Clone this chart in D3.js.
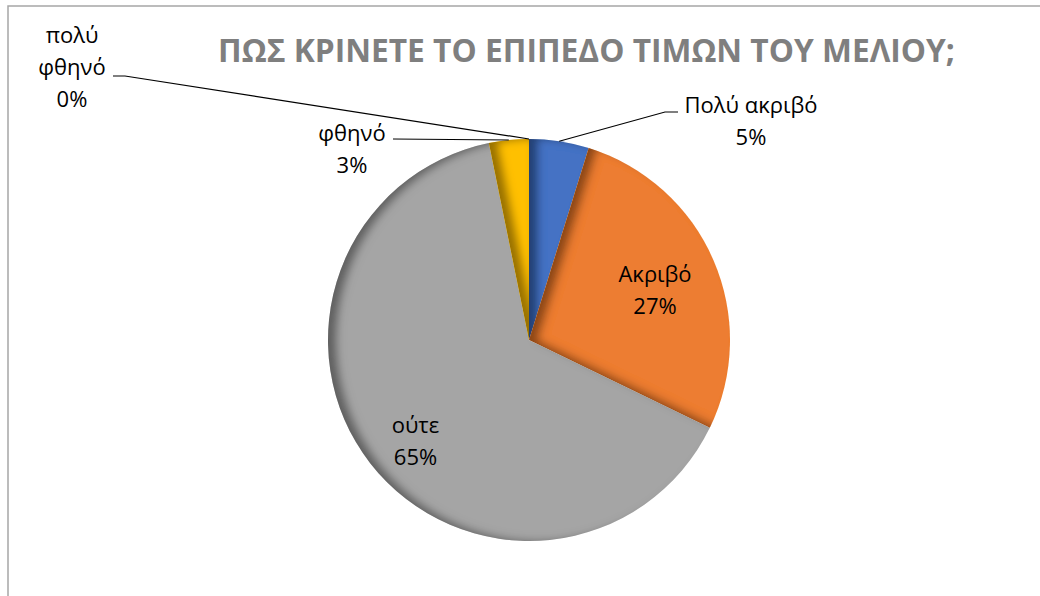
<!DOCTYPE html>
<html><head><meta charset="utf-8">
<script src="https://cdn.jsdelivr.net/npm/d3@7"></script>
<style>body{margin:0;background:#fff;overflow:hidden}</style>
</head><body><svg id="c" width="1040" height="596"></svg>
<script>
// ---- data ----
const categories = ["Πολύ ακριβό", "Ακριβό", "ούτε", "φθηνό", "πολύ φθηνό"];
const values = [4.8, 27.4, 64.6, 3.2, 0];
const colors = ["#4472C4", "#ED7D31", "#A5A5A5", "#FFC000", "#5B9BD5"];
const title = "ΠΩΣ ΚΡΙΝΕΤΕ ΤΟ ΕΠΙΠΕΔΟ ΤΙΜΩΝ ΤΟΥ ΜΕΛΙΟΥ;";

// ---- layout (not data) ----
const W = 1040, H = 596;
const cx = 529, cy = 340, R = 201;
const labelLayout = [
  {x: 751, y: 113, wrap: false, leader: [[665, 112], [678, 112]]},
  {x: 655, y: 282, wrap: false, leader: null},
  {x: 415.5, y: 433, wrap: false, leader: null},
  {x: 352, y: 141, wrap: false, leader: [[393, 139]]},
  {x: 72, y: 42.5, wrap: true, leader: [[125, 76], [113, 76]]}
];
const lineH = 32;

const svg = d3.select("#c");
const defs = svg.append("defs");
const f = defs.append("filter").attr("id", "inner")
  .attr("x", "-10%").attr("y", "-10%").attr("width", "120%").attr("height", "120%");
f.append("feOffset").attr("in", "SourceAlpha").attr("dx", 9).attr("dy", 0).attr("result", "off");
f.append("feGaussianBlur").attr("in", "off").attr("stdDeviation", 4).attr("result", "ob");
f.append("feComposite").attr("operator", "out").attr("in", "SourceAlpha").attr("in2", "ob").attr("result", "inv");
f.append("feFlood").attr("flood-color", "#000").attr("flood-opacity", 0.68).attr("result", "col");
f.append("feComposite").attr("operator", "in").attr("in", "col").attr("in2", "inv").attr("result", "sh");
const m = f.append("feMerge");
m.append("feMergeNode").attr("in", "SourceGraphic");
m.append("feMergeNode").attr("in", "sh");

// chart border
svg.append("rect").attr("x", 8).attr("y", 6).attr("width", W + 50).attr("height", H + 50)
  .attr("fill", "#fff").attr("stroke", "#a6a6a6").attr("stroke-width", 1.5);

// title
const t = svg.append("text").attr("x", 586.5).attr("y", 62)
  .attr("text-anchor", "middle")
  .attr("font-family", "'Open Sans', sans-serif").attr("font-weight", 700)
  .attr("font-size", 36).attr("fill", "#7f7f7f").text(title);
const tl = t.node().getComputedTextLength();
const target = 737;
if (tl > target) t.attr("font-size", 36 * target / tl);

const total = d3.sum(values);
const pie = d3.pie().sort(null).value(d => d)(values);
const arc = d3.arc().innerRadius(0).outerRadius(R);
const g = svg.append("g").attr("transform", `translate(${cx},${cy})`);
g.selectAll("path.slice").data(pie).join("path")
  .attr("class", "slice")
  .attr("d", arc)
  .attr("fill", (d, i) => colors[i])
  .attr("filter", "url(#inner)");

// leader lines
pie.forEach((d, i) => {
  const L = labelLayout[i];
  if (!L.leader) return;
  const a = (d.startAngle + d.endAngle) / 2;
  const p0 = [cx + R * Math.sin(a), cy - R * Math.cos(a)];
  const pts = [p0].concat(L.leader);
  svg.append("path").attr("d", d3.line()(pts))
    .attr("fill", "none").attr("stroke", "#000").attr("stroke-width", 1.2);
});

// labels
pie.forEach((d, i) => {
  const L = labelLayout[i];
  const pct = Math.round(d.value / total * 100) + "%";
  const lines = (L.wrap ? categories[i].split(" ") : [categories[i]]).concat([pct]);
  const txt = svg.append("text").attr("text-anchor", "middle")
    .attr("font-family", "'Open Sans', sans-serif").attr("font-size", 22).attr("fill", "#000");
  lines.forEach((s, k) => {
    txt.append("tspan").attr("x", L.x).attr("y", L.y + k * lineH).text(s);
  });
});
</script>
</body></html>
